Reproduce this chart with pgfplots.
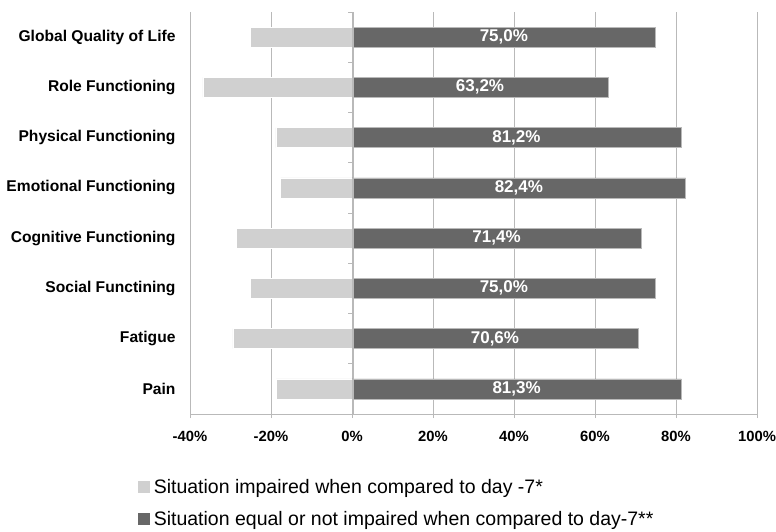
\documentclass[border=0pt]{standalone}
\usepackage{fontspec}
\setmainfont{Liberation Sans}
\usepackage{pgfplots}
\usepackage{pgfplotstable}
\pgfplotsset{compat=1.18}
\definecolor{lightbar}{RGB}{208,208,208}
\definecolor{darkbar}{RGB}{103,103,103}
\definecolor{gridc}{RGB}{185,185,185}
\pgfplotstableread{
idx neg pos
0 -25.0 75.0
1 -36.8 63.2
2 -18.8 81.2
3 -17.6 82.4
4 -28.6 71.4
5 -25.0 75.0
6 -29.4 70.6
7 -18.7 81.3
}\data
\begin{document}
\begin{tikzpicture}[x=1pt,y=1pt]
\useasboundingbox (0,0) rectangle (776,-532);
\begin{axis}[
  at={(190pt,-12pt)}, anchor=north west,
  scale only axis, width=567pt, height=402pt,
  xmin=-40, xmax=100, ymin=-0.5, ymax=7.5, y dir=reverse,
  xtick={-40,-20,0,20,40,60,80,100},
  xticklabels={-40\%,-20\%,0\%,20\%,40\%,60\%,80\%,100\%},
  ytick={0,1,2,3,4,5,6,7},
  yticklabels={Global Quality of Life,Role Functioning,Physical Functioning,Emotional Functioning,Cognitive Functioning,Social Functining,Fatigue,Pain},
  xticklabel style={font=\bfseries\fontsize{14.8}{17}\selectfont, yshift=-10pt},
  yticklabel style={font=\bfseries\fontsize{15.6}{18}\selectfont, xshift=-7pt},
  axis x line*=bottom, axis y line*=left,
  x axis line style={draw=gridc, line width=0.8pt},
  y axis line style={draw=none},
  xmajorgrids, grid style={gridc, line width=0.8pt},
  tick align=outside, major tick length=4pt,
  xtick style={gridc, line width=0.8pt},
  ytick style={draw=none},
  /pgf/number format/assume math mode=true,
  legend style={at={(rel axis cs:-0.0917,-0.162)}, anchor=north west, draw=none, fill=none,
    font=\fontsize{19.5}{23}\selectfont, row sep=16pt, inner sep=0pt,
    nodes={inner sep=0pt}, /tikz/every odd column/.append style={column sep=4pt}},
  legend cell align=left,
]
\addplot[xbar, bar width=20pt, bar shift=0pt, fill=lightbar, draw=white, line width=0.6pt,
  legend image code/.code={\fill[lightbar] (0pt,-5.5pt) rectangle (11pt,5.5pt);}]
  table[x=neg, y=idx] {\data};
\addlegendentry{Situation impaired when compared to day -7*}
\addplot[xbar, bar width=20pt, bar shift=0pt, fill=darkbar, draw=gray!55, line width=0.6pt,
  legend image code/.code={\fill[darkbar] (0pt,-5.5pt) rectangle (11pt,5.5pt);}]
  table[x=pos, y=idx] {\data};
\addlegendentry{Situation equal or not impaired when compared to day-7**}
\addplot[draw=none, mark=none, forget plot,
  nodes near coords={\pgfmathprintnumber[fixed,fixed zerofill,precision=1,use comma]{\pgfplotspointmeta}\%},
  point meta=explicit,
  every node near coord/.append style={anchor=center, text=white, font=\bfseries\fontsize{17}{20}\selectfont}]
  table[x expr=\thisrow{pos}/2, y=idx, meta=pos] {\data};
\end{axis}
\begin{axis}[
  at={(353pt,-12pt)}, anchor=north west,
  scale only axis, width=404pt, height=402pt,
  xmin=0, xmax=100, ymin=-0.5, ymax=7.5, y dir=reverse,
  axis x line=none, axis y line*=left,
  y axis line style={draw=gridc, line width=0.8pt},
  ytick={-0.5,0.5,1.5,2.5,3.5,4.5,5.5,6.5,7.5}, yticklabels={},
  tick align=outside, major tick length=5pt,
  ytick style={gridc, line width=0.8pt},
]
\end{axis}
\end{tikzpicture}
\end{document}
